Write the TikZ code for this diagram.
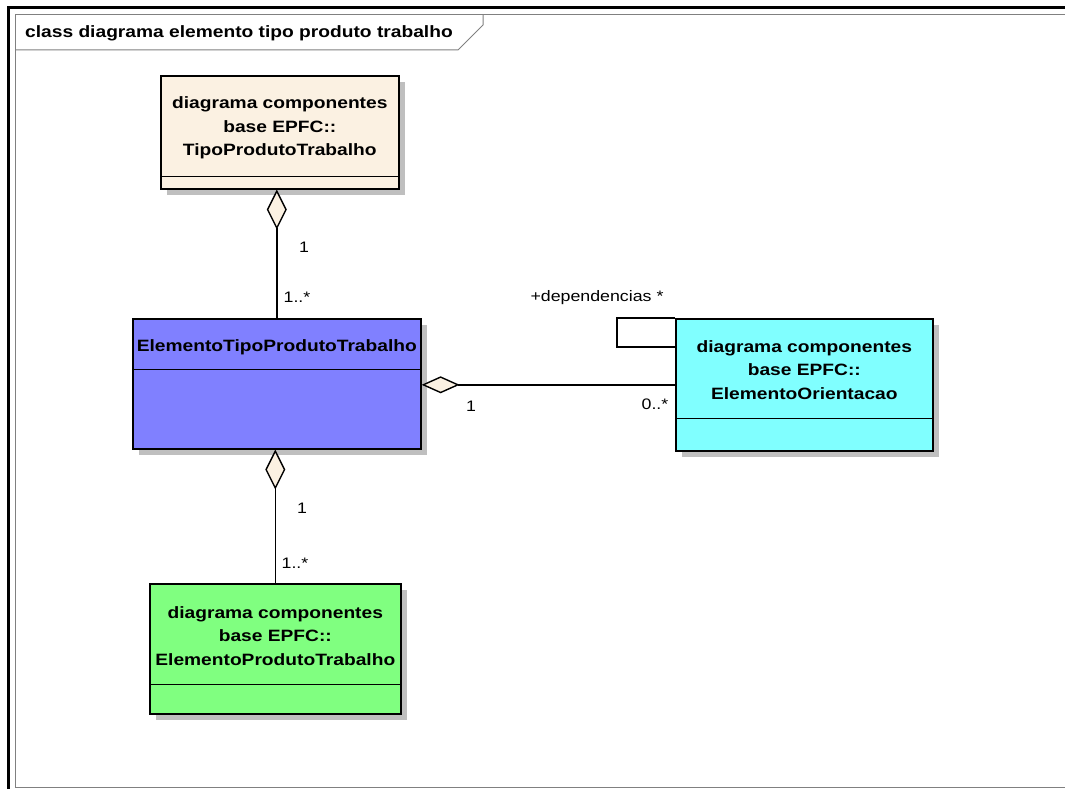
\documentclass[tikz,border=0pt]{standalone}
\usepackage{fontspec}
\setmainfont[FakeStretch=1.17]{Liberation Sans}
\usepackage{tikz}
\usetikzlibrary{positioning}
\usetikzlibrary{calc}
\usetikzlibrary{arrows.meta}
\usetikzlibrary{shadows}

\definecolor{creamfill}{RGB}{251,241,226}
\definecolor{bluefill}{RGB}{128,128,255}
\definecolor{greenfill}{RGB}{128,255,128}
\definecolor{cyanfill}{RGB}{128,255,255}
\definecolor{framegray}{RGB}{128,128,128}

\begin{document}
\begin{tikzpicture}[x=1pt, y=-1pt,
    classbox/.style={draw, line width=1.6pt, anchor=north west, inner sep=0pt,
        drop shadow={shadow xshift=6pt, shadow yshift=-6pt, fill=black!25, opacity=1}},
    classname/.style={align=center, font=\fontsize{16.4}{23.5}\selectfont\bfseries, inner sep=0pt},
    mult/.style={font=\fontsize{15.2}{17}\selectfont, inner sep=0pt},
    aggr/.style 2 args={line width=1.4pt, -{Diamond[length=#1, width=#2, fill=creamfill]}}]

    \useasboundingbox (0,0) rectangle (1065,789);

    % frame
    \draw[line width=3pt] (8,900) -- (8,8) -- (1100,8);
    \draw[framegray, line width=1pt] (1100,15) -- (15,15) -- (15,787) -- (1100,787);
    \draw[framegray, line width=1pt] (15,50) -- (458,50) -- (483,25) -- (483,15);
    \node[anchor=west, font=\fontsize{16.4}{18}\selectfont\bfseries, inner sep=0pt] (title) at (25,33)
        {class diagrama elemento tipo produto trabalho};

    % classes
    \node[classbox, fill=creamfill, minimum width=238pt, minimum height=113pt] (tipo) at (160,75) {};
    \node[classbox, fill=bluefill, minimum width=288pt, minimum height=130pt] (elem) at (132,318) {};
    \node[classbox, fill=greenfill, minimum width=251pt, minimum height=130pt] (prod) at (149,583) {};
    \node[classbox, fill=cyanfill, minimum width=257pt, minimum height=132pt] (orient) at (675,318) {};

    \draw[line width=1.5pt] ($(tipo.south west)+(0,-13)$) -- ($(tipo.south east)+(0,-13)$);
    \draw[line width=1.5pt] ($(elem.south west)+(0,-80)$) -- ($(elem.south east)+(0,-80)$);
    \draw[line width=1.5pt] ($(prod.south west)+(0,-30)$) -- ($(prod.south east)+(0,-30)$);
    \draw[line width=1.5pt] ($(orient.south west)+(0,-33)$) -- ($(orient.south east)+(0,-33)$);

    \node[classname] (tiponame) at ($(tipo.north)+(0,53)$) {diagrama componentes\\base EPFC::\\TipoProdutoTrabalho};
    \node[classname] (elemname) at ($(elem.north)+(0,29)$) {ElementoTipoProdutoTrabalho};
    \node[classname] (prodname) at ($(prod.north)+(0,53)$) {diagrama componentes\\base EPFC::\\ElementoProdutoTrabalho};
    \node[classname] (orientname) at ($(orient.north)+(0,52)$) {diagrama componentes\\base EPFC::\\ElementoOrientacao};

    % associations
    \draw[aggr={40pt}{20pt}] (elem.north) -- (elem.north |- tipo.south);
    \draw[aggr={40pt}{20pt}] (prod.north) -- (prod.north |- elem.south);
    \draw[aggr={38pt}{17pt}] (orient.west) -- (orient.west -| elem.east);
    \draw[line width=1.4pt] (orient.north west) -- ++(-58,0) -- ++(0,29) -- ++(58,0);

    \node[mult] (tipoone) at (304,247) {1};
    \node[mult] (tipomany) at (297,297) {1..*};
    \node[mult] (prodone) at (302,508) {1};
    \node[mult] (prodmany) at (295,563) {1..*};
    \node[mult] (orientone) at (471,406) {1};
    \node[mult] (orientmany) at (655,404) {0..*};
    \node[mult] (deps) at (597,298) {+dependencias *};

\end{tikzpicture}
\end{document}
